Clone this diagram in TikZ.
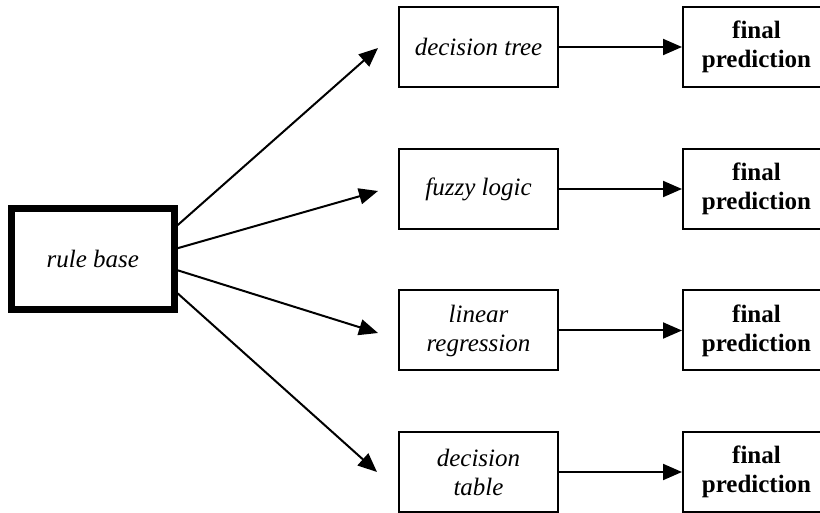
\documentclass[tikz,border=0pt]{standalone}
\usepackage{fontspec}
\setmainfont{Liberation Serif}
\usetikzlibrary{arrows.meta}
\begin{document}
\begin{tikzpicture}[x=0.5pt,y=-0.5pt,
  midbox/.style={draw, line width=1pt, rectangle, inner sep=0pt,
    minimum width=79.5pt, minimum height=40pt, align=center, font=\fontsize{12.5}{14.5}\selectfont\itshape},
  outbox/.style={draw, line width=1pt, rectangle, inner sep=0pt,
    minimum width=73.5pt, minimum height=40pt, align=center, font=\fontsize{12.5}{14.5}\selectfont\bfseries},
  rulebox/.style={draw, line width=3.5pt, rectangle, inner sep=0pt,
    minimum width=81.25pt, minimum height=50.75pt, font=\fontsize{12.5}{14.5}\selectfont\itshape},
  link/.style={line width=1pt, -{Triangle[length=9.5pt,width=8pt]}}]
\clip (0,0) rectangle (820,513);

% source
\node[rulebox] (rb) at (92.75,259.25) {rule base};

% methods
\node[midbox] (m1) at (478.5,47)    {decision tree};
\node[midbox] (m2) at (478.5,189)   {fuzzy logic};
\node[midbox] (m3) at (478.5,330.5) {linear\\regression};
\node[midbox] (m4) at (478.5,472)   {decision\\table};

% outputs
\node[outbox] (f1) at (756.5,47)    {final\\prediction};
\node[outbox] (f2) at (756.5,189)   {final\\prediction};
\node[outbox] (f3) at (756.5,330.5) {final\\prediction};
\node[outbox] (f4) at (756.5,472)   {final\\prediction};

% arrow tips in front of the method boxes
\coordinate (t1) at (378,48);
\coordinate (t2) at (378,191);
\coordinate (t3) at (378,333);
\coordinate (t4) at (377,472);

\draw[link] ([yshift=17pt]rb.east)   -- (t1);
\draw[link] ([yshift=5.5pt]rb.east)  -- (t2);
\draw[link] ([yshift=-5.5pt]rb.east) -- (t3);
\draw[link] ([yshift=-17pt]rb.east)  -- (t4);

\foreach \i in {1,...,4}
  \draw[link] (m\i.east) -- (f\i.west);
\end{tikzpicture}
\end{document}
